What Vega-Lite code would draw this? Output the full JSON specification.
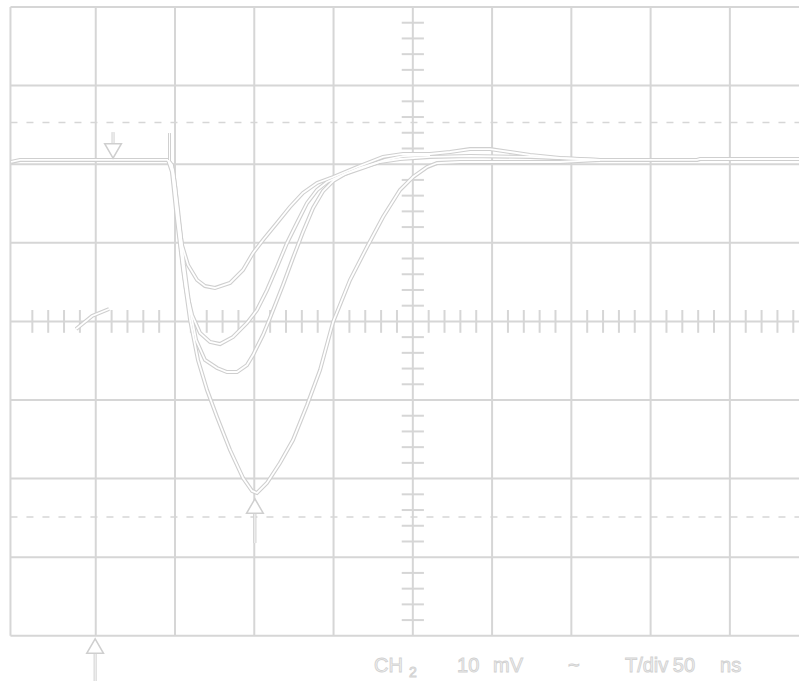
{
  "$schema": "https://vega.github.io/schema/vega-lite/v6.json",
  "width": 799,
  "height": 681,
  "autosize": {"type": "fit", "contains": "padding"},
  "padding": 0,
  "background": "#ffffff",
  "config": {"view": {"stroke": null}},
  "datasets": {
    "grid": [
      {"t": -253.8, "t2": -253.8, "mV": -40, "mV2": 40},
      {"t": -200, "t2": -200, "mV": -40, "mV2": 40},
      {"t": -150, "t2": -150, "mV": -40, "mV2": 40},
      {"t": -100, "t2": -100, "mV": -40, "mV2": 40},
      {"t": -50, "t2": -50, "mV": -40, "mV2": 40},
      {"t": 0, "t2": 0, "mV": -40, "mV2": 40},
      {"t": 50, "t2": 50, "mV": -40, "mV2": 40},
      {"t": 100, "t2": 100, "mV": -40, "mV2": 40},
      {"t": 150, "t2": 150, "mV": -40, "mV2": 40},
      {"t": 200, "t2": 200, "mV": -40, "mV2": 40},
      {"t": -253.8, "t2": 243.6, "mV": -40, "mV2": -40},
      {"t": -253.8, "t2": 243.6, "mV": -30, "mV2": -30},
      {"t": -253.8, "t2": 243.6, "mV": -20, "mV2": -20},
      {"t": -253.8, "t2": 243.6, "mV": -10, "mV2": -10},
      {"t": -253.8, "t2": 243.6, "mV": 0, "mV2": 0},
      {"t": -253.8, "t2": 243.6, "mV": 10, "mV2": 10},
      {"t": -253.8, "t2": 243.6, "mV": 20, "mV2": 20},
      {"t": -253.8, "t2": 243.6, "mV": 30, "mV2": 30},
      {"t": -253.8, "t2": 243.6, "mV": 40, "mV2": 40}
    ],
    "ticks": [
      {"t": -7, "t2": 7, "mV": -38, "mV2": -38},
      {"t": -7, "t2": 7, "mV": -36, "mV2": -36},
      {"t": -7, "t2": 7, "mV": -34, "mV2": -34},
      {"t": -7, "t2": 7, "mV": -32, "mV2": -32},
      {"t": -7, "t2": 7, "mV": -28, "mV2": -28},
      {"t": -7, "t2": 7, "mV": -26, "mV2": -26},
      {"t": -7, "t2": 7, "mV": -24, "mV2": -24},
      {"t": -7, "t2": 7, "mV": -22, "mV2": -22},
      {"t": -7, "t2": 7, "mV": -18, "mV2": -18},
      {"t": -7, "t2": 7, "mV": -16, "mV2": -16},
      {"t": -7, "t2": 7, "mV": -14, "mV2": -14},
      {"t": -7, "t2": 7, "mV": -12, "mV2": -12},
      {"t": -7, "t2": 7, "mV": -8, "mV2": -8},
      {"t": -7, "t2": 7, "mV": -6, "mV2": -6},
      {"t": -7, "t2": 7, "mV": -4, "mV2": -4},
      {"t": -7, "t2": 7, "mV": -2, "mV2": -2},
      {"t": -7, "t2": 7, "mV": 2, "mV2": 2},
      {"t": -7, "t2": 7, "mV": 4, "mV2": 4},
      {"t": -7, "t2": 7, "mV": 6, "mV2": 6},
      {"t": -7, "t2": 7, "mV": 8, "mV2": 8},
      {"t": -7, "t2": 7, "mV": 12, "mV2": 12},
      {"t": -7, "t2": 7, "mV": 14, "mV2": 14},
      {"t": -7, "t2": 7, "mV": 16, "mV2": 16},
      {"t": -7, "t2": 7, "mV": 18, "mV2": 18},
      {"t": -7, "t2": 7, "mV": 22, "mV2": 22},
      {"t": -7, "t2": 7, "mV": 24, "mV2": 24},
      {"t": -7, "t2": 7, "mV": 26, "mV2": 26},
      {"t": -7, "t2": 7, "mV": 28, "mV2": 28},
      {"t": -7, "t2": 7, "mV": 32, "mV2": 32},
      {"t": -7, "t2": 7, "mV": 34, "mV2": 34},
      {"t": -7, "t2": 7, "mV": 36, "mV2": 36},
      {"t": -7, "t2": 7, "mV": 38, "mV2": 38},
      {"t": -240, "t2": -240, "mV": -1.45, "mV2": 1.45},
      {"t": -230, "t2": -230, "mV": -1.45, "mV2": 1.45},
      {"t": -220, "t2": -220, "mV": -1.45, "mV2": 1.45},
      {"t": -210, "t2": -210, "mV": -1.45, "mV2": 1.45},
      {"t": -190, "t2": -190, "mV": -1.45, "mV2": 1.45},
      {"t": -180, "t2": -180, "mV": -1.45, "mV2": 1.45},
      {"t": -170, "t2": -170, "mV": -1.45, "mV2": 1.45},
      {"t": -160, "t2": -160, "mV": -1.45, "mV2": 1.45},
      {"t": -140, "t2": -140, "mV": -1.45, "mV2": 1.45},
      {"t": -130, "t2": -130, "mV": -1.45, "mV2": 1.45},
      {"t": -120, "t2": -120, "mV": -1.45, "mV2": 1.45},
      {"t": -110, "t2": -110, "mV": -1.45, "mV2": 1.45},
      {"t": -90, "t2": -90, "mV": -1.45, "mV2": 1.45},
      {"t": -80, "t2": -80, "mV": -1.45, "mV2": 1.45},
      {"t": -70, "t2": -70, "mV": -1.45, "mV2": 1.45},
      {"t": -60, "t2": -60, "mV": -1.45, "mV2": 1.45},
      {"t": -40, "t2": -40, "mV": -1.45, "mV2": 1.45},
      {"t": -30, "t2": -30, "mV": -1.45, "mV2": 1.45},
      {"t": -20, "t2": -20, "mV": -1.45, "mV2": 1.45},
      {"t": -10, "t2": -10, "mV": -1.45, "mV2": 1.45},
      {"t": 10, "t2": 10, "mV": -1.45, "mV2": 1.45},
      {"t": 20, "t2": 20, "mV": -1.45, "mV2": 1.45},
      {"t": 30, "t2": 30, "mV": -1.45, "mV2": 1.45},
      {"t": 40, "t2": 40, "mV": -1.45, "mV2": 1.45},
      {"t": 60, "t2": 60, "mV": -1.45, "mV2": 1.45},
      {"t": 70, "t2": 70, "mV": -1.45, "mV2": 1.45},
      {"t": 80, "t2": 80, "mV": -1.45, "mV2": 1.45},
      {"t": 90, "t2": 90, "mV": -1.45, "mV2": 1.45},
      {"t": 110, "t2": 110, "mV": -1.45, "mV2": 1.45},
      {"t": 120, "t2": 120, "mV": -1.45, "mV2": 1.45},
      {"t": 130, "t2": 130, "mV": -1.45, "mV2": 1.45},
      {"t": 140, "t2": 140, "mV": -1.45, "mV2": 1.45},
      {"t": 160, "t2": 160, "mV": -1.45, "mV2": 1.45},
      {"t": 170, "t2": 170, "mV": -1.45, "mV2": 1.45},
      {"t": 180, "t2": 180, "mV": -1.45, "mV2": 1.45},
      {"t": 190, "t2": 190, "mV": -1.45, "mV2": 1.45},
      {"t": 210, "t2": 210, "mV": -1.45, "mV2": 1.45},
      {"t": 220, "t2": 220, "mV": -1.45, "mV2": 1.45},
      {"t": 230, "t2": 230, "mV": -1.45, "mV2": 1.45},
      {"t": 240, "t2": 240, "mV": -1.45, "mV2": 1.45}
    ],
    "cursors": [
      {"t": -253.8, "t2": 243.6, "mV": 25.3, "mV2": 25.3},
      {"t": -253.8, "t2": 243.6, "mV": -24.9, "mV2": -24.9}
    ],
    "stems": [
      {"t": -189.1, "t2": -189.1, "mV": 24.08, "mV2": 22.6},
      {"t": -153.5, "t2": -153.5, "mV": 23.96, "mV2": 20.54},
      {"t": -200.4, "t2": -200.4, "mV": -42.3, "mV2": -46.5},
      {"t": -99.6, "t2": -99.6, "mV": -24.5, "mV2": -28.2}
    ],
    "markers": [
      {"marker": "trigger", "t": -189.1, "mV": 21.68},
      {"marker": "cursor", "t": -200.4, "mV": -41.3},
      {"marker": "cursor", "t": -99.6, "mV": -23.49}
    ],
    "traces": [
      {"trace": "A", "t": -253.4, "mV": 20.28},
      {"trace": "A", "t": -247.8, "mV": 20.54},
      {"trace": "A", "t": -154.4, "mV": 20.54},
      {"trace": "A", "t": -151.9, "mV": 19.9},
      {"trace": "A", "t": -150.0, "mV": 17.35},
      {"trace": "A", "t": -148.1, "mV": 13.54},
      {"trace": "A", "t": -145.6, "mV": 9.72},
      {"trace": "A", "t": -141.8, "mV": 7.18},
      {"trace": "A", "t": -136.1, "mV": 5.27},
      {"trace": "A", "t": -131.1, "mV": 4.5},
      {"trace": "A", "t": -124.8, "mV": 4.25},
      {"trace": "A", "t": -115.3, "mV": 4.89},
      {"trace": "A", "t": -107.1, "mV": 6.54},
      {"trace": "A", "t": -100.8, "mV": 8.7},
      {"trace": "A", "t": -94.5, "mV": 10.36},
      {"trace": "A", "t": -85.7, "mV": 12.52},
      {"trace": "A", "t": -77.5, "mV": 14.56},
      {"trace": "A", "t": -69.3, "mV": 16.34},
      {"trace": "A", "t": -60.4, "mV": 17.61},
      {"trace": "A", "t": -50.3, "mV": 18.37},
      {"trace": "A", "t": -35.2, "mV": 19.64},
      {"trace": "A", "t": -18.8, "mV": 20.92},
      {"trace": "A", "t": -6.2, "mV": 21.3},
      {"trace": "A", "t": 10.8, "mV": 21.3},
      {"trace": "A", "t": 23.5, "mV": 21.55},
      {"trace": "A", "t": 36.1, "mV": 21.93},
      {"trace": "A", "t": 48.7, "mV": 21.93},
      {"trace": "A", "t": 61.3, "mV": 21.55},
      {"trace": "A", "t": 74.0, "mV": 21.17},
      {"trace": "A", "t": 92.8, "mV": 20.79},
      {"trace": "A", "t": 118.1, "mV": 20.54},
      {"trace": "A", "t": 179.3, "mV": 20.54},
      {"trace": "A", "t": 181.2, "mV": 20.66},
      {"trace": "A", "t": 243.6, "mV": 20.66},
      {"trace": "B", "t": -154.4, "mV": 20.54},
      {"trace": "B", "t": -151.9, "mV": 19.52},
      {"trace": "B", "t": -149.4, "mV": 15.45},
      {"trace": "B", "t": -146.2, "mV": 9.08},
      {"trace": "B", "t": -143.0, "mV": 3.99},
      {"trace": "B", "t": -139.2, "mV": 0.81},
      {"trace": "B", "t": -134.2, "mV": -1.48},
      {"trace": "B", "t": -127.9, "mV": -2.62},
      {"trace": "B", "t": -121.6, "mV": -2.88},
      {"trace": "B", "t": -113.4, "mV": -1.98},
      {"trace": "B", "t": -104.6, "mV": -0.2},
      {"trace": "B", "t": -98.3, "mV": 1.45},
      {"trace": "B", "t": -92.0, "mV": 3.99},
      {"trace": "B", "t": -85.7, "mV": 6.92},
      {"trace": "B", "t": -79.4, "mV": 9.97},
      {"trace": "B", "t": -73.1, "mV": 12.52},
      {"trace": "B", "t": -66.7, "mV": 15.07},
      {"trace": "B", "t": -60.4, "mV": 16.72},
      {"trace": "B", "t": -54.1, "mV": 17.73},
      {"trace": "B", "t": -45.9, "mV": 18.5},
      {"trace": "B", "t": -33.3, "mV": 19.52},
      {"trace": "B", "t": -20.7, "mV": 20.28},
      {"trace": "B", "t": -8.1, "mV": 20.66},
      {"trace": "B", "t": 10.8, "mV": 20.92},
      {"trace": "B", "t": 36.1, "mV": 21.04},
      {"trace": "B", "t": 74.0, "mV": 20.92},
      {"trace": "B", "t": 118.1, "mV": 20.54},
      {"trace": "C", "t": -154.4, "mV": 20.54},
      {"trace": "C", "t": -151.2, "mV": 19.26},
      {"trace": "C", "t": -148.1, "mV": 14.17},
      {"trace": "C", "t": -144.3, "mV": 7.18},
      {"trace": "C", "t": -140.5, "mV": 1.45},
      {"trace": "C", "t": -136.7, "mV": -2.37},
      {"trace": "C", "t": -131.1, "mV": -4.91},
      {"trace": "C", "t": -123.5, "mV": -5.93},
      {"trace": "C", "t": -117.2, "mV": -6.44},
      {"trace": "C", "t": -110.9, "mV": -6.44},
      {"trace": "C", "t": -104.6, "mV": -5.55},
      {"trace": "C", "t": -100.8, "mV": -4.28},
      {"trace": "C", "t": -94.5, "mV": -1.73},
      {"trace": "C", "t": -90.1, "mV": 0.43},
      {"trace": "C", "t": -81.9, "mV": 4.63},
      {"trace": "C", "t": -75.6, "mV": 8.07},
      {"trace": "C", "t": -69.3, "mV": 11.37},
      {"trace": "C", "t": -62.9, "mV": 14.43},
      {"trace": "C", "t": -56.6, "mV": 16.59},
      {"trace": "C", "t": -50.3, "mV": 17.86},
      {"trace": "C", "t": -42.8, "mV": 18.75},
      {"trace": "C", "t": -30.1, "mV": 19.64},
      {"trace": "C", "t": -17.5, "mV": 20.54},
      {"trace": "C", "t": -6.2, "mV": 21.04},
      {"trace": "C", "t": 10.8, "mV": 21.17},
      {"trace": "D", "t": -154.4, "mV": 20.54},
      {"trace": "D", "t": -151.9, "mV": 19.01},
      {"trace": "D", "t": -148.7, "mV": 12.9},
      {"trace": "D", "t": -144.9, "mV": 6.54},
      {"trace": "D", "t": -140.5, "mV": 0.18},
      {"trace": "D", "t": -135.5, "mV": -4.91},
      {"trace": "D", "t": -129.8, "mV": -8.73},
      {"trace": "D", "t": -123.5, "mV": -12.16},
      {"trace": "D", "t": -115.3, "mV": -16.36},
      {"trace": "D", "t": -107.1, "mV": -19.92},
      {"trace": "D", "t": -101.4, "mV": -21.57},
      {"trace": "D", "t": -98.3, "mV": -21.83},
      {"trace": "D", "t": -92.0, "mV": -20.56},
      {"trace": "D", "t": -83.8, "mV": -18.02},
      {"trace": "D", "t": -75.6, "mV": -15.09},
      {"trace": "D", "t": -66.7, "mV": -10.64},
      {"trace": "D", "t": -58.5, "mV": -6.18},
      {"trace": "D", "t": -50.3, "mV": -0.08},
      {"trace": "D", "t": -39.6, "mV": 5.27},
      {"trace": "D", "t": -28.9, "mV": 9.47},
      {"trace": "D", "t": -18.8, "mV": 13.28},
      {"trace": "D", "t": -8.1, "mV": 16.72},
      {"trace": "D", "t": 0.1, "mV": 18.37},
      {"trace": "D", "t": 9.0, "mV": 19.64},
      {"trace": "D", "t": 15.3, "mV": 20.15},
      {"trace": "D", "t": 29.8, "mV": 20.28},
      {"trace": "D", "t": 92.8, "mV": 20.28},
      {"trace": "D", "t": 118.1, "mV": 20.54},
      {"trace": "G", "t": -212.4, "mV": -0.97},
      {"trace": "G", "t": -202.3, "mV": 0.69},
      {"trace": "G", "t": -191.6, "mV": 1.58}
    ],
    "labels": [
      {"text": "CH", "role": "main", "t": -24.5, "mV": -44.6},
      {"text": "2", "role": "sub", "t": -2.4, "mV": -45.3},
      {"text": "10", "role": "main", "t": 27.9, "mV": -44.6},
      {"text": "mV", "role": "main", "t": 50.6, "mV": -44.6},
      {"text": "~", "role": "main", "t": 97.9, "mV": -44.6},
      {"text": "T/div", "role": "main", "t": 133.8, "mV": -44.6},
      {"text": "50", "role": "main", "t": 164.0, "mV": -44.6},
      {"text": "ns", "role": "main", "t": 193.8, "mV": -44.6}
    ]
  },
  "encoding": {
    "x": {"field": "t", "type": "quantitative", "axis": null,
          "scale": {"domain": [-260.4, 243.6], "nice": false, "zero": false}},
    "y": {"field": "mV", "type": "quantitative", "axis": null,
          "scale": {"domain": [-45.75, 40.89], "nice": false, "zero": false}}
  },
  "layer": [
    {
      "data": {"name": "grid"},
      "mark": {"type": "rule", "color": "#d6d6d6", "strokeWidth": 2, "clip": true},
      "encoding": {"x2": {"field": "t2"}, "y2": {"field": "mV2"}}
    },
    {
      "data": {"name": "ticks"},
      "mark": {"type": "rule", "color": "#d6d6d6", "strokeWidth": 2, "clip": true},
      "encoding": {"x2": {"field": "t2"}, "y2": {"field": "mV2"}}
    },
    {
      "data": {"name": "cursors"},
      "mark": {"type": "rule", "color": "#d6d6d6", "strokeWidth": 1.5, "strokeDash": [7, 9], "clip": true},
      "encoding": {"x2": {"field": "t2"}, "y2": {"field": "mV2"}}
    },
    {
      "data": {"name": "traces"},
      "mark": {"type": "line", "color": "#cfcfcf", "strokeWidth": 4, "clip": true},
      "encoding": {"detail": {"field": "trace"}}
    },
    {
      "data": {"name": "traces"},
      "mark": {"type": "line", "color": "#ffffff", "strokeWidth": 1.8, "clip": true},
      "encoding": {"detail": {"field": "trace"}}
    },
    {
      "data": {"name": "stems"},
      "mark": {"type": "rule", "color": "#cfcfcf", "strokeWidth": 3, "clip": true},
      "encoding": {"x2": {"field": "t2"}, "y2": {"field": "mV2"}}
    },
    {
      "data": {"name": "stems"},
      "mark": {"type": "rule", "color": "#ffffff", "strokeWidth": 1, "clip": true},
      "encoding": {"x2": {"field": "t2"}, "y2": {"field": "mV2"}}
    },
    {
      "data": {"name": "markers"},
      "transform": [{"filter": "datum.marker === 'trigger'"}],
      "mark": {"type": "point", "shape": "triangle-down", "filled": true, "fill": "#ffffff",
               "stroke": "#cfcfcf", "strokeWidth": 1.5, "size": 280, "opacity": 1, "clip": true}
    },
    {
      "data": {"name": "markers"},
      "transform": [{"filter": "datum.marker === 'cursor'"}],
      "mark": {"type": "point", "shape": "triangle-up", "filled": true, "fill": "#ffffff",
               "stroke": "#cfcfcf", "strokeWidth": 1.5, "size": 280, "opacity": 1, "clip": true}
    },
    {
      "data": {"name": "labels"},
      "transform": [{"filter": "datum.role === 'main'"}],
      "mark": {"type": "text", "align": "left", "baseline": "alphabetic", "font": "Liberation Sans",
               "fontSize": 20, "fill": "#f4f4f4", "stroke": "#d2d2d2", "strokeWidth": 0.9, "clip": true},
      "encoding": {"text": {"field": "text"}}
    },
    {
      "data": {"name": "labels"},
      "transform": [{"filter": "datum.role === 'sub'"}],
      "mark": {"type": "text", "align": "left", "baseline": "alphabetic", "font": "Liberation Sans",
               "fontSize": 14, "fill": "#f4f4f4", "stroke": "#d2d2d2", "strokeWidth": 0.9, "clip": true},
      "encoding": {"text": {"field": "text"}}
    }
  ]
}
